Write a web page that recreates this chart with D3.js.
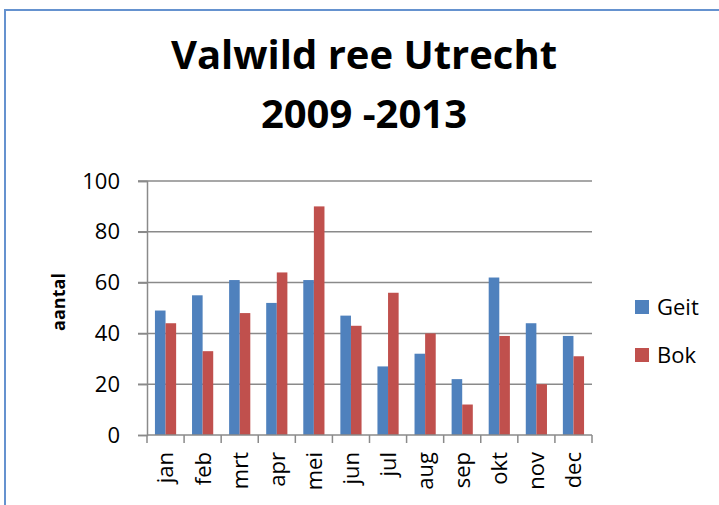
<!DOCTYPE html>
<html>
<head>
<meta charset="utf-8">
<script src="https://cdn.jsdelivr.net/npm/d3@7"></script>
<style>
  body { margin: 0; background: #fff; }
  text { font-family: "Open Sans", sans-serif; fill: #000; }
</style>
</head>
<body>
<svg id="chart" width="719" height="505"></svg>
<script>
var months = ["jan", "feb", "mrt", "apr", "mei", "jun", "jul", "aug", "sep", "okt", "nov", "dec"];
var seriesNames = ["Geit", "Bok"];
var geit = [49, 55, 61, 52, 61, 47, 27, 32, 22, 62, 44, 39];
var bok = [44, 33, 48, 64, 90, 43, 56, 40, 12, 39, 20, 31];
var yTicks = [0, 20, 40, 60, 80, 100];
var colors = ["#4f81bd", "#c0504d"];

(function() {
    var svg = d3.select("#chart");

    // chart frame (only top and left edge are inside the picture)
    svg.append("rect")
        .attr("x", 5).attr("y", 10)
        .attr("width", 730).attr("height", 520)
        .attr("fill", "none")
        .attr("stroke", "#6592cf")
        .attr("stroke-width", 2);

    // title
    var title = svg.append("text")
        .attr("text-anchor", "middle")
        .style("font-weight", "bold")
        .style("font-size", "40px");
    title.append("tspan").attr("x", 364).attr("y", 69).text("Valwild ree Utrecht");
    title.append("tspan").attr("x", 364).attr("y", 128).text("2009 -2013");

    var pLeft = 147, pRight = 592, pTop = 181, pBottom = 435;
    var gridColor = "#8a8a8a";

    var x = d3.scaleBand().domain(months).range([pLeft, pRight]).padding(0);
    var xs = d3.scaleBand().domain(seriesNames).range([0, x.bandwidth()]).paddingOuter(0.75);
    var y = d3.scaleLinear().domain([0, 100]).range([pBottom, pTop]);

    // gridlines
    svg.append("g").selectAll("line")
        .data(yTicks.slice(1))
        .join("line")
        .attr("x1", pLeft - 9).attr("x2", pRight)
        .attr("y1", function(d) { return y(d); })
        .attr("y2", function(d) { return y(d); })
        .attr("stroke", gridColor)
        .attr("stroke-width", 1.5);

    // bars
    var data = months.map(function(m, i) {
        return { month: m, values: [geit[i], bok[i]] };
    });

    var groups = svg.append("g").selectAll("g")
        .data(data)
        .join("g")
        .attr("transform", function(d) { return "translate(" + x(d.month) + ",0)"; });

    groups.selectAll("rect")
        .data(function(d) {
            return d.values.map(function(v, j) { return { name: seriesNames[j], v: v, j: j }; });
        })
        .join("rect")
        .attr("x", function(d) { return xs(d.name); })
        .attr("width", xs.bandwidth())
        .attr("y", function(d) { return y(d.v); })
        .attr("height", function(d) { return y(0) - y(d.v); })
        .attr("fill", function(d) { return colors[d.j]; });

    // y axis
    var yAxis = svg.append("g")
        .attr("transform", "translate(" + pLeft + ",0)")
        .call(d3.axisLeft(y).tickValues(yTicks).tickSize(9).tickPadding(18));
    yAxis.select(".domain").attr("stroke", gridColor).attr("stroke-width", 1.5);
    yAxis.selectAll(".tick line").attr("stroke", gridColor).attr("stroke-width", 1.5);
    yAxis.selectAll(".tick text")
        .style("font-family", "'Open Sans', sans-serif")
        .style("font-size", "22px")
        .attr("fill", "#000");

    // x axis
    var xAxis = svg.append("g")
        .attr("transform", "translate(0," + pBottom + ")");
    xAxis.append("line")
        .attr("x1", pLeft).attr("x2", pRight)
        .attr("stroke", gridColor).attr("stroke-width", 1.5);
    xAxis.selectAll("line.tk")
        .data(months.concat(["end"]))
        .join("line")
        .attr("class", "tk")
        .attr("x1", function(d, i) { return i < months.length ? x(d) : pRight; })
        .attr("x2", function(d, i) { return i < months.length ? x(d) : pRight; })
        .attr("y1", 0).attr("y2", 8)
        .attr("stroke", gridColor).attr("stroke-width", 1.5);
    xAxis.selectAll("text")
        .data(months)
        .join("text")
        .attr("transform", function(d) {
            return "translate(" + (x(d) + x.bandwidth() / 2) + ",17) rotate(-90)";
        })
        .attr("text-anchor", "end")
        .attr("dy", "0.36em")
        .style("font-size", "22px")
        .text(function(d) { return d; });

    // y axis title
    svg.append("text")
        .attr("transform", "translate(65,302) rotate(-90)")
        .attr("text-anchor", "middle")
        .style("font-weight", "bold")
        .style("font-size", "18px")
        .text("aantal");

    // legend
    var legend = svg.append("g").selectAll("g")
        .data(seriesNames)
        .join("g")
        .attr("transform", function(d, i) { return "translate(635," + (300 + i * 48) + ")"; });
    legend.append("rect")
        .attr("width", 14).attr("height", 14)
        .attr("fill", function(d, i) { return colors[i]; });
    legend.append("text")
        .attr("x", 22).attr("y", 15)
        .style("font-size", "22px")
        .text(function(d) { return d; });
})();
</script>
</body>
</html>
